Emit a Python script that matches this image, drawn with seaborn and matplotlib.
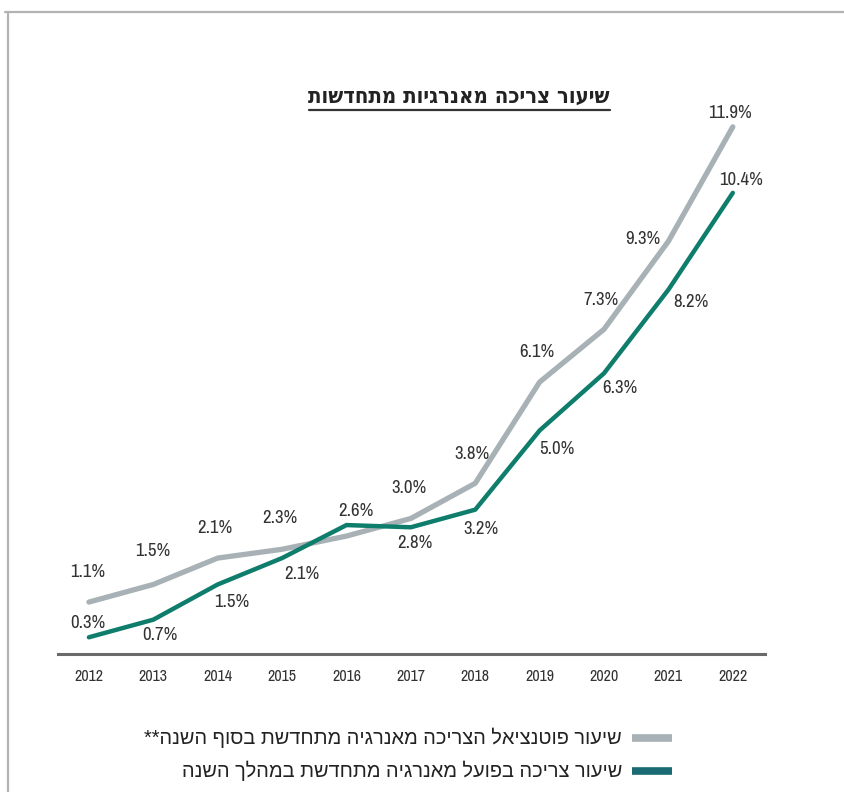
import numpy as np
import matplotlib
matplotlib.use("Agg")
import matplotlib.pyplot as plt
from matplotlib.lines import Line2D
import seaborn as sns
import pandas as pd

# Renewable-energy consumption share (%), 2012-2022
years = [2012, 2013, 2014, 2015, 2016, 2017, 2018, 2019, 2020, 2021, 2022]
potential = [1.1, 1.5, 2.1, 2.3, 2.6, 3.0, 3.8, 6.1, 7.3, 9.3, 11.9]
actual = [0.3, 0.7, 1.5, 2.1, 2.85, 2.8, 3.2, 5.0, 6.3, 8.2, 10.4]
actual_labels = ["0.3%", "0.7%", "1.5%", "2.1%", None, "2.8%", "3.2%", "5.0%", "6.3%", "8.2%", "10.4%"]
potential_labels = [f"{v:.1f}%" for v in potential]

title = "שיעור צריכה מאנרגיות מתחדשות"
name_potential = "שיעור פוטנציאל הצריכה מאנרגיה מתחדשת בסוף השנה**"
name_actual = "שיעור צריכה בפועל מאנרגיה מתחדשת במהלך השנה"

GRAY = "#a8b2b6"
TEAL = "#0f7d6c"
GRAY_KEY = "#a8b2b6"
TEAL_KEY = "#1a6a73"
NARROW = ["Archivo Narrow", "DejaVu Sans"]
HEB = ["Liberation Sans", "DejaVu Sans"]

sns.set_style("white")
plt.rcParams["font.family"] = ["DejaVu Sans"]


def _needs_flip():
    # Check whether the text engine already lays Hebrew out right-to-left:
    # draw wide letters followed by narrow ones and see which side holds the ink.
    f = plt.figure(figsize=(2.4, 0.6), dpi=100)
    f.text(0.05, 0.5, "ששש" + "ווו", fontsize=20, va="center", family=HEB)
    f.canvas.draw()
    img = np.asarray(f.canvas.buffer_rgba())[..., 0].astype(float)
    plt.close(f)
    cols = (255.0 - img).sum(axis=0)
    xs = np.nonzero(cols > 1)[0]
    if len(xs) == 0:
        return False
    mid = int((xs[0] + xs[-1]) / 2)
    return cols[:mid].sum() > cols[mid:].sum()


FLIP = _needs_flip()


def heb(s):
    return s[::-1] if FLIP else s


df = pd.DataFrame({
    "year": years * 2,
    "value": potential + actual,
    "series": [name_potential] * len(years) + [name_actual] * len(years),
})

fig = plt.figure(figsize=(8.44, 7.92), dpi=100)
ax = fig.add_axes([58 / 844, 138 / 792, 707 / 844, 554 / 792])

sns.lineplot(data=df, x="year", y="value", hue="series",
             palette={name_potential: GRAY, name_actual: TEAL},
             hue_order=[name_potential, name_actual],
             ax=ax, legend=False, sort=False)
ax.lines[0].set_linewidth(3.8)
ax.lines[1].set_linewidth(3.2)
ax.lines[0].set_solid_capstyle("round")
ax.lines[1].set_solid_capstyle("round")

ax.set_xlim(2011.52, 2022.50)
ax.set_ylim(-0.08, 12.51)

# value labels, offsets in pixels from each point
pot_off = [(-1, 30), (-1, 33), (-3, 30), (-2, 31), (9, 25), (-2, 30), (-3, 29),
           (-3, 30), (-3, 29), (-26, 2), (-3, 14)]
act_off = [(-1, 14), (7, -15), (14, -18), (20, -16), None, (4, -16), (6, -19),
           (17, -19), (16, -15), (22, -12), (8, 13)]
lab_kw = dict(textcoords="offset pixels", ha="center", va="center",
              fontsize=13.5, color="#333333", family=NARROW)
for x, v, lab, off in zip(years, potential, potential_labels, pot_off):
    ax.annotate(lab, (x, v), xytext=off, **lab_kw)
for x, v, lab, off in zip(years, actual, actual_labels, act_off):
    if lab is None:
        continue
    ax.annotate(lab, (x, v), xytext=off, **lab_kw)

ax.set_xticks(years)
ax.set_xticklabels([str(y) for y in years], fontsize=11.5, color="#333333",
                   family=NARROW)
ax.tick_params(axis="x", length=0, pad=11)
ax.set_yticks([])
ax.set_xlabel("")
ax.set_ylabel("")
for side in ["top", "right", "left"]:
    ax.spines[side].set_visible(False)
ax.spines["bottom"].set_color("#6a6a6a")
ax.spines["bottom"].set_linewidth(2.2)

# title, underlined
t = fig.text(610 / 844, 1 - 97 / 792, heb(title), ha="right", va="center",
             fontsize=15.8, color="#222222", fontstretch="condensed",
             fontweight="bold", family="DejaVu Sans")
fig.canvas.draw()
bb = t.get_window_extent()
fig.add_artist(Line2D([bb.x0 / 844, bb.x1 / 844],
                      [(bb.y0 - 3) / 792, (bb.y0 - 3) / 792],
                      color="#333333", lw=1.6))

# legend: text to the left of a thick swatch
for ypx, name, col in [(738, name_potential, GRAY_KEY), (771, name_actual, TEAL_KEY)]:
    yf = 1 - ypx / 792
    fig.add_artist(Line2D([632 / 844, 672 / 844], [yf, yf], color=col, lw=5.5,
                          solid_capstyle="butt"))
    fig.text(622 / 844, yf, heb(name), ha="right", va="center", fontsize=14.4,
             color="#222222", family=HEB)

# outer frame
fig.add_artist(Line2D([5 / 844, 1.0], [1 - 12 / 792, 1 - 12 / 792], color="#b3b3b3", lw=1.6))
fig.add_artist(Line2D([8 / 844, 8 / 844], [0, 1 - 12 / 792], color="#b3b3b3", lw=1.6))

fig.savefig("out.png", dpi=100)
